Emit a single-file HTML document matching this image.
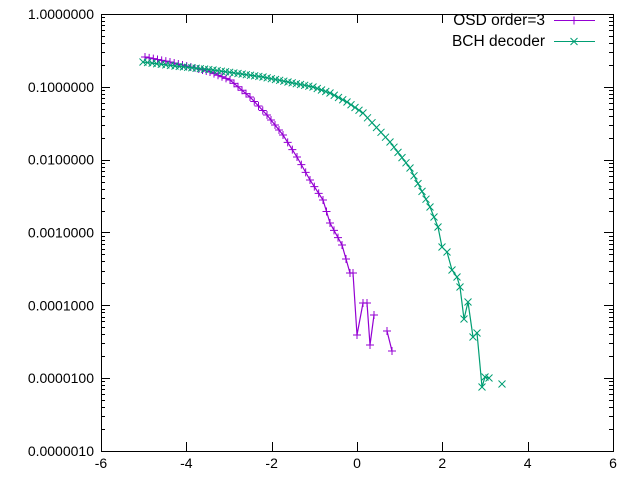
<!DOCTYPE html>
<html><head><style>body{margin:0;background:#fff}svg{display:block}text{font-family:"Liberation Sans",sans-serif;font-size:14px;fill:#000}</style></head>
<body>
<svg id="s" width="640" height="480" xmlns="http://www.w3.org/2000/svg">
<rect x="101.5" y="14.5" width="512" height="437" fill="none" stroke="#000" stroke-width="1"/>
<g id="ax" stroke="#000" stroke-width="1"></g>
<g id="lbl"></g>
<rect x="446" y="15" width="154" height="34" fill="#fff"/>
<text x="545" y="25" text-anchor="end" style="font-size:15.5px">OSD order=3</text>
<text x="545" y="46" text-anchor="end" style="font-size:15.5px">BCH decoder</text>
<line x1="554" y1="20.5" x2="595" y2="20.5" stroke="#9400d3"/>
<path d="M570,20.5h8M574,16.5v8" stroke="#9400d3" fill="none"/>
<line x1="554" y1="41.5" x2="595" y2="41.5" stroke="#009e73"/>
<path d="M570.5,38l7,7M570.5,45l7,-7" stroke="#009e73" fill="none"/>
<g id="d"></g>
</svg>
<script>
var ns="http://www.w3.org/2000/svg";
function el(p,t,a,txt){var e=document.createElementNS(ns,t);for(var k in a)e.setAttribute(k,a[k]);if(txt!=null)e.textContent=txt;document.getElementById(p).appendChild(e);return e;}
var y0=14,dec=72.83;
var labs=["1.0000000","0.1000000","0.0100000","0.0010000","0.0001000","0.0000100","0.0000010"];
for(var i=0;i<7;i++){var y=y0+i*dec;var yy=Math.round(y)+0.5;
el("ax","line",{x1:101,y1:yy,x2:110,y2:yy});el("ax","line",{x1:613,y1:yy,x2:604,y2:yy});
el("lbl","text",{x:94,y:y+5,"text-anchor":"end"},labs[i]);
if(i<6)for(var m=2;m<10;m++){var ym=Math.round(y+dec*(1-Math.log10(m)))+0.5;el("ax","line",{x1:101,y1:ym,x2:105,y2:ym});el("ax","line",{x1:613,y1:ym,x2:609,y2:ym});}}
for(var j=0;j<7;j++){var x=101+j*85.33,xx=Math.round(x)+0.5;
el("ax","line",{x1:xx,y1:451,x2:xx,y2:442});el("ax","line",{x1:xx,y1:14,x2:xx,y2:23});
el("lbl","text",{x:x,y:468,"text-anchor":"middle"},String(-6+2*j));}
function series(pts,col,mk,dense){
el("d","polyline",{points:pts.map(p=>p.join(",")).join(" "),fill:"none",stroke:col,"stroke-width":1.2});
var ms=[];for(var i=0;i<pts.length-1;i++){var a=pts[i],b=pts[i+1];ms.push(a);
if(i<dense){var n=Math.max(0,Math.round((b[0]-a[0])/4.27)-1);for(var k=1;k<=n;k++){var t=k/(n+1);ms.push([a[0]+(b[0]-a[0])*t,a[1]+(b[1]-a[1])*t]);}}}
ms.push(pts[pts.length-1]);
ms.forEach(function(p){var x=p[0],y=p[1];var d=mk=="+"?"M"+(x-4)+","+y+"h8M"+x+","+(y-4)+"v8":"M"+(x-3.5)+","+(y-3.5)+"l7,7M"+(x-3.5)+","+(y+3.5)+"l7,-7";
el("d","path",{d:d,stroke:col,"stroke-width":1,fill:"none"});});}
var P=[[145,57],[170,62],[195,68],[210,72],[230,80],[250,97],[267,115],[283,135],[297,157],[310,180],[323,200],[330,223],[342,245],[350,273],[353,273],[357,335],[363,303],[367,303],[370,345],[374,315]];
series(P,"#9400d3","+",13);
el("d","polyline",{points:"387,331 392,351",fill:"none",stroke:"#9400d3","stroke-width":1.2});
[[387,331],[392,351]].forEach(function(p){el("d","path",{d:"M"+(p[0]-4)+","+p[1]+"h8M"+p[0]+","+(p[1]-4)+"v8",stroke:"#9400d3",fill:"none"});});
var G=[[143,62],[175,66],[213,70],[263,77],[313,87],[330,93],[347,102],[363,113],[390,142],[410,168],[430,207],[438,227],[442,247],[447,252],[452,270],[457,277],[460,287],[464,319],[468,302],[473,337],[477,333],[482,387],[485,377],[489,378]];
series(G,"#009e73","x",13);
el("d","path",{d:"M498.5,380.5l7,7M498.5,387.5l7,-7",stroke:"#009e73",fill:"none"});
</script>
</body></html>
